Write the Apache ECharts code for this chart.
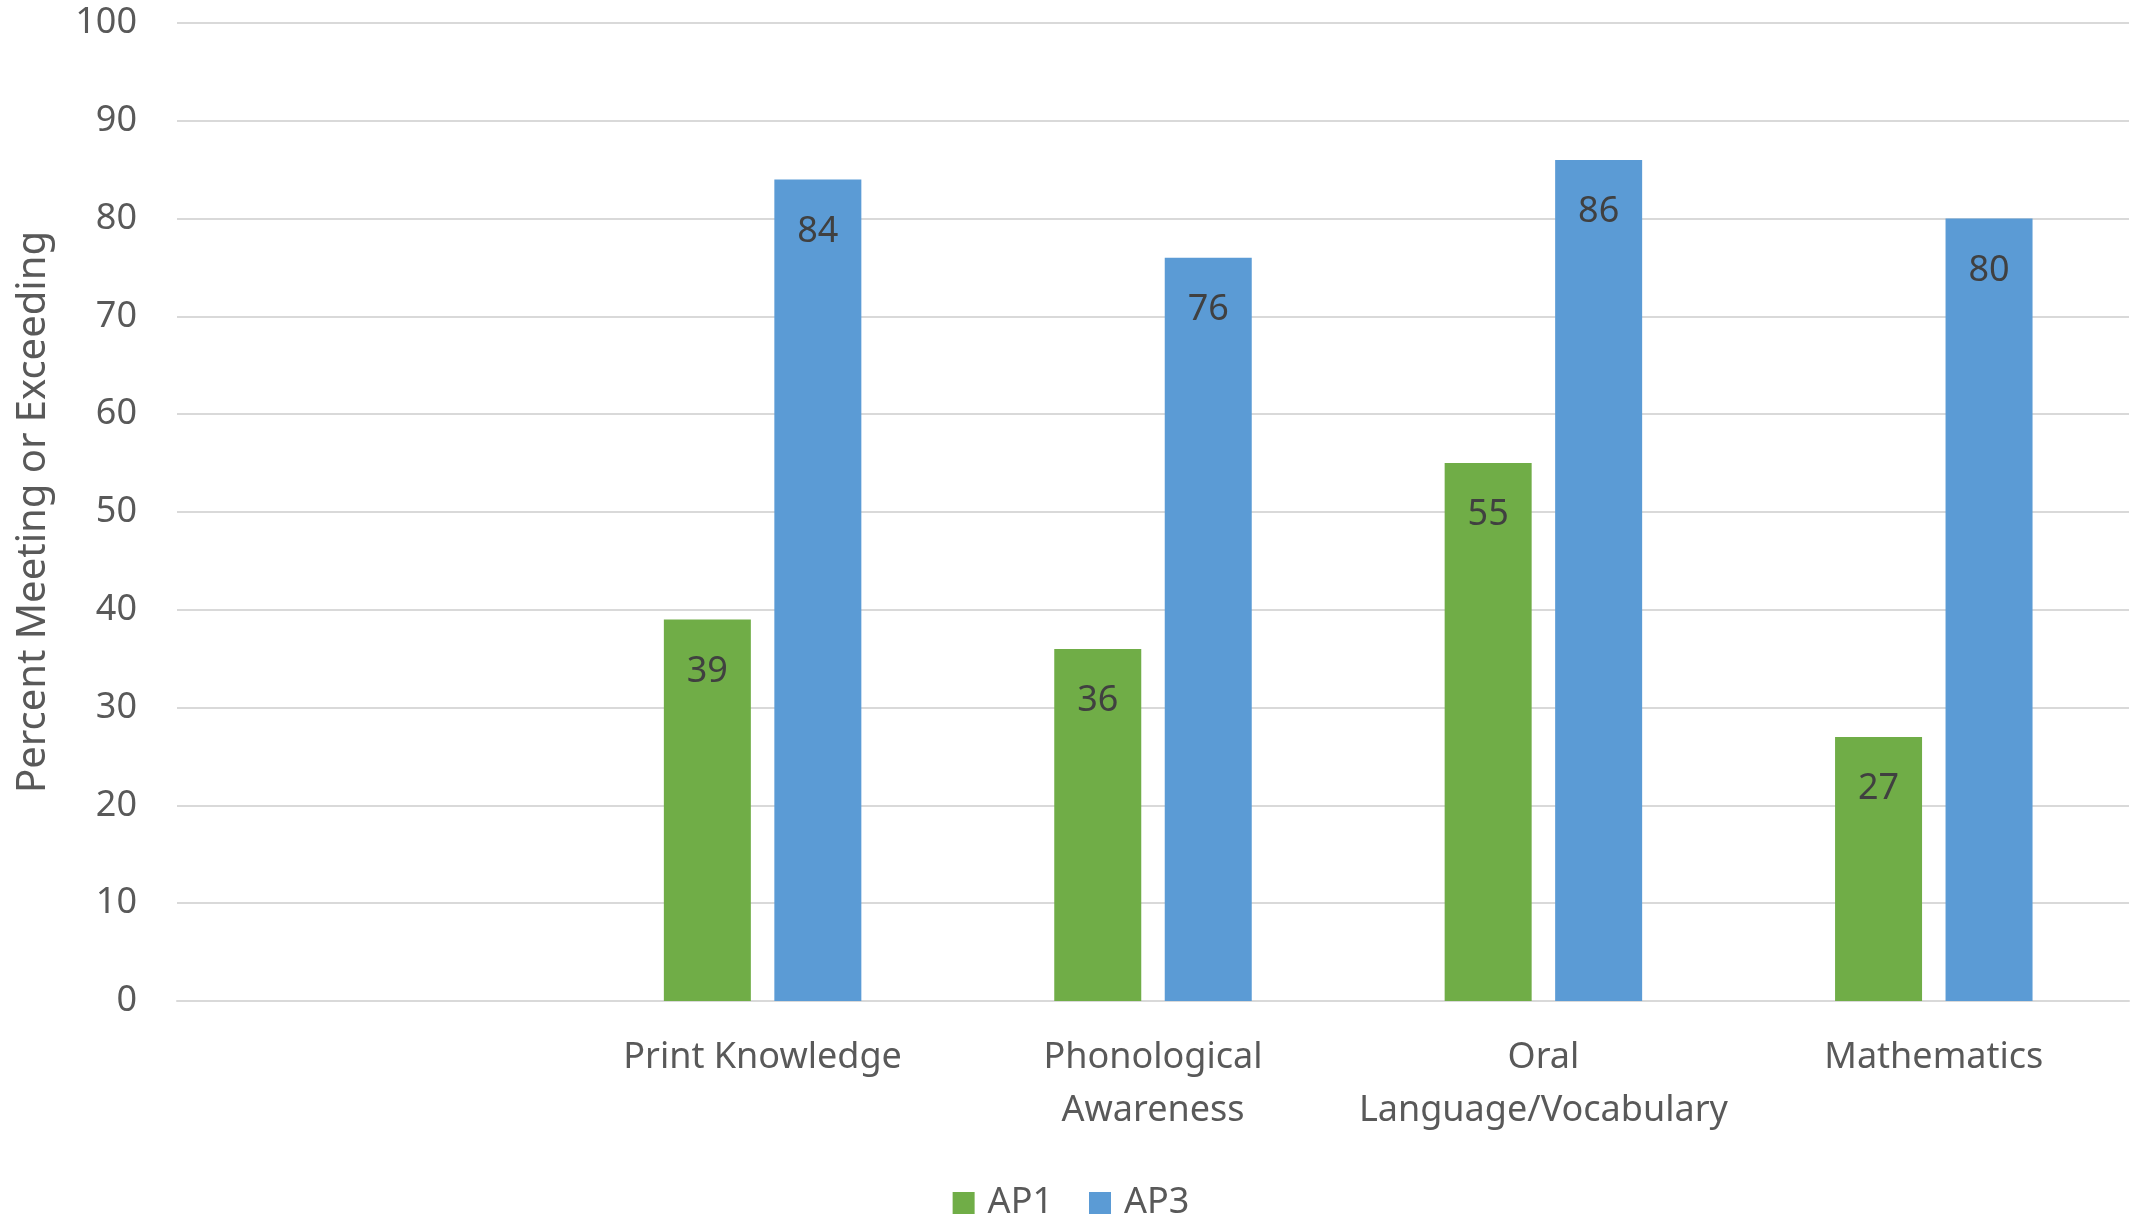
<!DOCTYPE html>
<html>
<head>
<meta charset="utf-8">
<script src="https://cdn.jsdelivr.net/npm/echarts@6/dist/echarts.min.js"></script>
<style>
  html, body { margin: 0; padding: 0; background: #ffffff; }
  #chart { width: 2142px; height: 1217px; }
</style>
</head>
<body>
<div id="chart"></div>
<script>
// Domains (the leading blank slot leaves an empty band at the left of the plot)
const categories = ['', 'Print Knowledge', 'Phonological\nAwareness', 'Oral\nLanguage/Vocabulary', 'Mathematics'];
const seriesNames = ['AP1', 'AP3'];
const ap1Values = [null, 39, 36, 55, 27];
const ap3Values = [null, 84, 76, 86, 80];
const yTicks = { min: 0, max: 100, interval: 10 };

const FONT = '"Noto Sans", "Open Sans", sans-serif';
const chart = echarts.init(document.getElementById('chart'), null, { renderer: 'canvas' });

const labelStyle = {
  show: true,
  position: 'insideTop',
  distance: 34,
  color: '#404040',
  fontFamily: FONT,
  fontSize: 36,
  formatter: p => (p.value == null ? '' : String(p.value))
};

chart.setOption({
  animation: false,
  backgroundColor: '#ffffff',
  grid: { left: 177, right: 13, top: 23, bottom: 216, containLabel: false, outerBoundsMode: 'none' },
  legend: {
    data: seriesNames,
    left: 'center',
    top: 1180,
    itemWidth: 22,
    itemHeight: 22,
    itemGap: 36,
    icon: 'rect',
    textStyle: { color: '#595959', fontFamily: FONT, fontSize: 36, padding: [0, 0, 0, 8] }
  },
  xAxis: {
    type: 'category',
    data: categories,
    axisLine: { show: true, lineStyle: { color: '#d9d9d9', width: 2 } },
    axisTick: { show: false },
    axisLabel: {
      color: '#595959',
      fontFamily: FONT,
      fontSize: 36,
      lineHeight: 53,
      margin: 30,
      interval: 0
    }
  },
  yAxis: {
    type: 'value',
    min: yTicks.min,
    max: yTicks.max,
    interval: yTicks.interval,
    name: 'Percent Meeting or Exceeding',
    nameLocation: 'middle',
    nameGap: 123,
    nameRotate: 90,
    nameTextStyle: { color: '#595959', fontFamily: FONT, fontSize: 40 },
    axisLine: { show: false },
    axisTick: { show: false },
    axisLabel: { color: '#595959', fontFamily: FONT, fontSize: 36, margin: 40 },
    splitLine: { lineStyle: { color: '#d9d9d9', width: 2 } }
  },
  series: [
    {
      name: seriesNames[0],
      type: 'bar',
      data: ap1Values,
      barWidth: 87,
      barGap: '27%',
      itemStyle: { color: '#70ad47' },
      label: labelStyle
    },
    {
      name: seriesNames[1],
      type: 'bar',
      data: ap3Values,
      barWidth: 87,
      barGap: '27%',
      itemStyle: { color: '#5b9bd5' },
      label: labelStyle
    }
  ]
});
</script>
</body>
</html>
